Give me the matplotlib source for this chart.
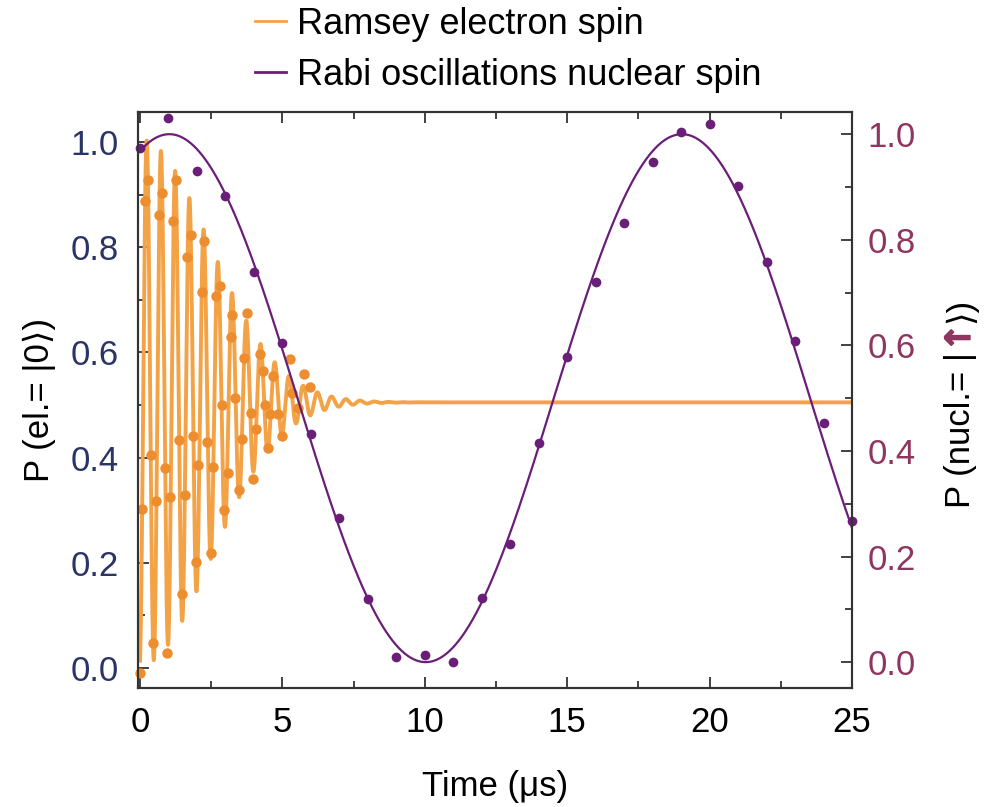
import numpy as np
import matplotlib
matplotlib.use("Agg")
import matplotlib.pyplot as plt
import matplotlib.patheffects as pe
from matplotlib.lines import Line2D
from matplotlib.ticker import MultipleLocator

plt.rcParams['font.family'] = ['Liberation Sans', 'DejaVu Sans']

# Ramsey fringes, electron spin (time in us, population of |0>)
ramsey_t = [0.00, 0.08, 0.18, 0.29, 0.38, 0.47, 0.56, 0.67, 0.76, 0.88,
            0.96, 1.05, 1.17, 1.26, 1.37, 1.46, 1.58, 1.66, 1.78, 1.87,
            1.96, 2.05, 2.19, 2.26, 2.36, 2.48, 2.57, 2.67, 2.81, 2.87,
            2.96, 3.08, 3.18, 3.24, 3.34, 3.49, 3.57, 3.65, 3.75, 3.89,
            3.96, 4.07, 4.21, 4.31, 4.39, 4.48, 4.56, 4.66, 4.85, 4.98,
            5.27, 5.33, 5.56, 5.76, 5.97]
ramsey_p = [-0.009, 0.302, 0.888, 0.927, 0.405, 0.047, 0.318, 0.861, 0.903, 0.381,
            0.029, 0.326, 0.850, 0.927, 0.434, 0.140, 0.329, 0.781, 0.824, 0.441,
            0.201, 0.386, 0.714, 0.812, 0.430, 0.219, 0.383, 0.708, 0.727, 0.500,
            0.301, 0.370, 0.629, 0.672, 0.514, 0.339, 0.435, 0.590, 0.675, 0.485,
            0.359, 0.454, 0.596, 0.564, 0.500, 0.418, 0.482, 0.555, 0.482, 0.441,
            0.587, 0.523, 0.495, 0.558, 0.534]

# Gaussian-damped Ramsey fit
ramsey_offset = 0.505
ramsey_amp = 0.5
ramsey_freq = 2.0      # MHz
ramsey_tpeak = 0.235   # us
ramsey_t2 = 3.45       # us

# Rabi oscillations, nuclear spin
rabi_t = list(range(26))
rabi_p = [0.973, 1.030, 0.930, 0.883, 0.739, 0.604, 0.432, 0.273, 0.119, 0.009,
          0.013, 0.000, 0.121, 0.223, 0.415, 0.578, 0.720, 0.831, 0.947, 1.004,
          1.019, 0.902, 0.758, 0.608, 0.453, 0.267]

rabi_offset = 0.5
rabi_amp = 0.5
rabi_period = 18.0     # us
rabi_tpeak = 1.03      # us

orange_line = '#F3A246'
orange_dot = '#EE8D2D'
purple = '#6A1E78'
navy = '#2B3467'
plum = '#8E3560'
spine_col = '#333333'
fs = 25

tt = np.linspace(0, 25, 6000)
ramsey_fit = ramsey_offset + ramsey_amp * np.exp(-(tt / ramsey_t2) ** 2) * \
    np.cos(2 * np.pi * ramsey_freq * (tt - ramsey_tpeak))
rabi_fit = rabi_offset + rabi_amp * np.cos(2 * np.pi * (tt - rabi_tpeak) / rabi_period)

fig = plt.figure(figsize=(9.86, 8.07), dpi=100)
ax = fig.add_axes([138 / 986, 1 - 688 / 807, (852 - 138) / 986, (688 - 112) / 807])
ax2 = ax.twinx()

ax.plot(tt, ramsey_fit, color=orange_line, lw=2.8, zorder=2)
ax.plot(ramsey_t, ramsey_p, 'o', color=orange_dot, ms=7.5, mec='none', zorder=3,
        clip_on=False)

ax2.plot(tt, rabi_fit, color=purple, lw=1.6)
ax2.plot(rabi_t, rabi_p, 'o', color=purple, ms=7, mec='none', clip_on=False)

ax.set_xlim(-0.07, 25)
ax.set_ylim(-0.038, 1.057)
ax2.set_ylim(-0.049, 1.042)

ax.xaxis.set_major_locator(MultipleLocator(5))
ax.xaxis.set_minor_locator(MultipleLocator(2.5))
for a in (ax, ax2):
    a.yaxis.set_major_locator(MultipleLocator(0.2))
    a.yaxis.set_minor_locator(MultipleLocator(0.1))
    a.yaxis.set_major_formatter(plt.FormatStrFormatter('%.1f'))
    for s in a.spines.values():
        s.set_linewidth(1.5)
        s.set_color(spine_col)

ax.tick_params(axis='x', which='both', direction='in', top=True, colors=spine_col,
               labelcolor='black', labelsize=fs, pad=13)
ax.tick_params(axis='y', which='both', direction='in', right=False, colors=spine_col,
               labelcolor=navy, labelsize=fs, pad=14)
ax2.tick_params(axis='y', which='both', direction='in', colors=spine_col,
                labelcolor=plum, labelsize=fs, pad=11)
for a in (ax, ax2):
    a.tick_params(which='major', length=8, width=1.3)
    a.tick_params(which='minor', length=5, width=1.3)

ax.set_xlabel('Time (μs)', fontsize=fs, labelpad=22)
ax.set_ylabel('P (el.= |0⟩)', fontsize=fs, labelpad=10)

# right axis label built from pieces so the arrow can be coloured
fig.canvas.draw()
renderer = fig.canvas.get_renderer()
pieces = [('P (nucl.= |', 'black', 'normal', fs, None),
          ('↑', plum, 'bold', fs, ['DejaVu Sans']),
          ('⟩)', 'black', 'normal', fs, None)]
lengths = []
for txt, col, w, size, fam in pieces:
    t = fig.text(0, 0, txt, rotation=90, fontsize=size, color=col, fontweight=w,
                 family=fam)
    lengths.append(t.get_window_extent(renderer).height)
    t.remove()
y_px = (807 - 403) - sum(lengths) / 2
x_px = 970
for (txt, col, w, size, fam), h in zip(pieces, lengths):
    t = fig.text(x_px / 986, y_px / 807, txt, rotation=90, rotation_mode='anchor',
                 fontsize=size, color=col, fontweight=w, family=fam,
                 ha='left', va='baseline')
    if col == plum:
        t.set_path_effects([pe.withStroke(linewidth=1.0, foreground=plum)])
    y_px += h

handles = [Line2D([], [], color=orange_line, lw=2),
           Line2D([], [], color=purple, lw=2)]
fig.legend(handles, ['Ramsey electron spin', 'Rabi oscillations nuclear spin'],
           loc='center left', bbox_to_anchor=(255 / 986, 1 - 50 / 807),
           frameon=False, fontsize=26, handlelength=0.85, handletextpad=0.3,
           labelspacing=0.44, borderpad=0, borderaxespad=0)

fig.savefig('out.png', dpi=100)
